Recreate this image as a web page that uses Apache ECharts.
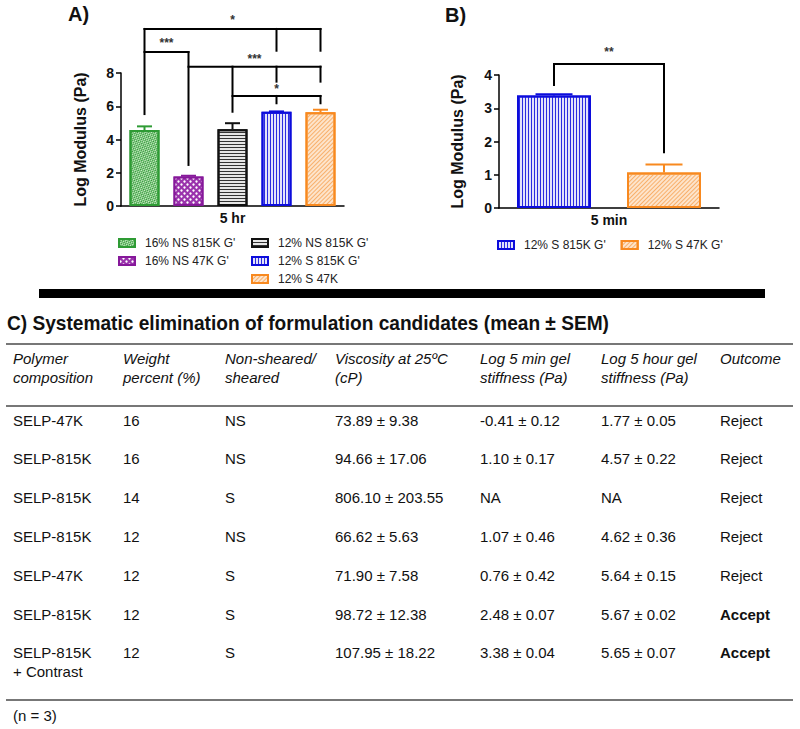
<!DOCTYPE html>
<html><head><meta charset="utf-8">
<script src="https://cdn.jsdelivr.net/npm/echarts/dist/echarts.min.js"></script>
<style>
body{margin:0;background:#fff;font-family:'Liberation Sans',Arial,sans-serif;color:#111;width:800px;height:729px;overflow:hidden;position:relative}
#chart{position:absolute;left:0;top:0;width:800px;height:300px}
.c{position:absolute;white-space:pre;font-size:15px;line-height:19px}
.h{font-style:italic}
.rule{position:absolute;background:#777;height:2px}
</style></head><body>
<div id="chart"></div>
<div id="table"></div>
<script>
// ---------- Panel A data ----------
const categoriesA = ['5 hr'];
const seriesNamesA = ["16% NS 815K G'", "16% NS 47K G'", "12% NS 815K G'", "12% S 815K G'", "12% S 47K"];
const meansA = [4.57, 1.77, 4.62, 5.67, 5.64];
const semA = [0.22, 0.05, 0.36, 0.02, 0.15];
// significance brackets A: horizontal [fromBar, toBar, y], vertical [bar, yTop, yBottom], labels [text, fromBar, toBar, y]
const bracketHA = [[0, 4, 10.65], [0, 1, 9.26], [1, 4, 8.38], [2, 4, 6.62]];
const bracketVA = [[0, 10.65, 5.53], [3, 10.65, 9.34], [4, 10.65, 9.34], [1, 9.26, 2.47], [2, 8.38, 5.67], [3, 8.38, 7.48], [4, 8.38, 7.48], [3, 6.62, 6.18], [4, 6.62, 6.18]];
const bracketLA = [['*', 0, 4, 11.2], ['***', 0, 1, 9.8], ['***', 1, 4, 8.85], ['*', 2, 4, 7.05]];

// ---------- Panel B data ----------
const categoriesB = ['5 min'];
const seriesNamesB = ["12% S 815K G'", "12% S 47K G'"];
const meansB = [3.38, 1.07];
const semB = [0.04, 0.24];
const bracketHB = [[0, 1, 4.33]];
const bracketVB = [[0, 4.33, 3.7], [1, 4.33, 1.68]];
const bracketLB = [['**', 0, 1, 4.69]];

// ---------- Panel C table ----------
const tableTitle = 'C) Systematic elimination of formulation candidates (mean ± SEM)';
const tableHeaders = ['Polymer\ncomposition', 'Weight\npercent (%)', 'Non-sheared/\nsheared', 'Viscosity at 25ºC\n(cP)', 'Log 5 min gel\nstiffness (Pa)', 'Log 5 hour gel\nstiffness (Pa)', 'Outcome'];
const colPolymer = ['SELP-47K', 'SELP-815K', 'SELP-815K', 'SELP-815K', 'SELP-47K', 'SELP-815K', 'SELP-815K\n+ Contrast'];
const colWeight = ['16', '16', '14', '12', '12', '12', '12'];
const colShear = ['NS', 'NS', 'S', 'NS', 'S', 'S', 'S'];
const colViscosity = ['73.89 ± 9.38', '94.66 ± 17.06', '806.10 ± 203.55', '66.62 ± 5.63', '71.90 ± 7.58', '98.72 ± 12.38', '107.95 ± 18.22'];
const colLog5min = ['-0.41 ± 0.12', '1.10 ± 0.17', 'NA', '1.07 ± 0.46', '0.76 ± 0.42', '2.48 ± 0.07', '3.38 ± 0.04'];
const colLog5hr = ['1.77 ± 0.05', '4.57 ± 0.22', 'NA', '4.62 ± 0.36', '5.64 ± 0.15', '5.67 ± 0.02', '5.65 ± 0.07'];
const colOutcome = ['Reject', 'Reject', 'Reject', 'Reject', 'Reject', 'Accept', 'Accept'];
const tableNote = '(n = 3)';

// ---------- styles ----------
const FONT = "'Liberation Sans', Arial, sans-serif";
const stylesA = [
  {color: '#cfeccb', border: '#2e9b34', decal: {symbol: 'rect', symbolSize: 1, color: '#2e9b34', dashArrayX: [[2, 2], [0, 2, 2, 0]], dashArrayY: [1, 0], rotation: Math.PI / 4}},
  {color: '#9a33ac', border: '#86189a', decal: {symbol: 'circle', symbolSize: 0.8, color: '#ffffff', dashArrayX: [[3, 3], [0, 3, 3, 0]], dashArrayY: [3, 0]}},
  {color: '#e6e6e6', border: '#111111', decal: {symbol: 'rect', symbolSize: 1, symbolKeepAspect: false, color: '#333333', dashArrayX: [4, 0], dashArrayY: [1, 2]}},
  {color: '#e2e2fb', border: '#0c0cdc', decal: {symbol: 'rect', symbolSize: 1, symbolKeepAspect: false, color: '#2b2be0', dashArrayX: [1, 1.6], dashArrayY: [4, 0]}},
  {color: '#fde4cb', border: '#f8891f', decal: {symbol: 'rect', symbolSize: 1, symbolKeepAspect: false, color: '#f8b06c', dashArrayX: [4, 0], dashArrayY: [1, 1.4], rotation: -Math.PI / 4}}
];
const stylesB = [stylesA[3], stylesA[4]];

function pixelHelpers(api, n, step) {
  const cx = api.coord([0, 0])[0];
  return {
    bx: i => cx + (i - (n - 1) / 2) * step,
    py: v => api.coord([0, v])[1]
  };
}
function bracketRender(H, V, L, n, step) {
  return function (params, api) {
    const {bx, py} = pixelHelpers(api, n, step);
    const ls = {stroke: '#000', lineWidth: 2, lineCap: 'square'};
    const children = [];
    H.forEach(([a, b, y]) => children.push({type: 'line', shape: {x1: bx(a), y1: py(y), x2: bx(b), y2: py(y)}, style: ls}));
    V.forEach(([i, y1, y2]) => children.push({type: 'line', shape: {x1: bx(i), y1: py(y1), x2: bx(i), y2: py(y2)}, style: ls}));
    L.forEach(([t, a, b, y]) => children.push({type: 'text', x: (bx(a) + bx(b)) / 2, y: py(y), style: {text: t, fill: '#333', font: 'bold 12px ' + FONT, align: 'center', verticalAlign: 'middle'}}));
    return {type: 'group', children};
  };
}
function errorRender(styles, n, step, bw) {
  return function (params, api) {
    const {bx, py} = pixelHelpers(api, n, step);
    const i = api.value(3), m = api.value(1), e = api.value(2);
    const x = bx(i), y0 = py(m), y1 = py(m + e);
    const st = {stroke: styles[i].border, lineWidth: 2};
    return {type: 'group', children: [
      {type: 'line', shape: {x1: x, y1: y0, x2: x, y2: y1}, style: st},
      {type: 'line', shape: {x1: x - bw / 4, y1: y1, x2: x + bw / 4, y2: y1}, style: st}
    ]};
  };
}

const BW_A = 30, STEP_A = 44, BW_B = 74, STEP_B = 110;
const axisLineStyle = {color: '#000', width: 1.5};
function xAxisCfg(gi, cats) {
  return {gridIndex: gi, type: 'category', data: cats,
    axisLine: {lineStyle: axisLineStyle}, axisTick: {alignWithLabel: true, length: 4, lineStyle: axisLineStyle},
    axisLabel: {fontFamily: FONT, fontWeight: 'bold', fontSize: 14, color: '#111', margin: 5}};
}
function yAxisCfg(gi, max, interval, gap) {
  return {gridIndex: gi, type: 'value', min: 0, max: max, interval: interval,
    name: 'Log Modulus (Pa)', nameLocation: 'middle', nameGap: gap,
    nameTextStyle: {fontFamily: FONT, fontWeight: 'bold', fontSize: 16, color: '#111'},
    axisLine: {show: true, lineStyle: axisLineStyle}, axisTick: {show: true, length: 5, lineStyle: axisLineStyle},
    splitLine: {show: false},
    axisLabel: {fontFamily: FONT, fontWeight: 'bold', fontSize: 14, color: '#111', margin: 7}};
}

const series = [];
seriesNamesA.forEach((name, i) => series.push({
  type: 'bar', name, xAxisIndex: 0, yAxisIndex: 0, data: [meansA[i]], barWidth: BW_A, barGap: (100 * (STEP_A - BW_A) / BW_A) + '%',
  itemStyle: {color: stylesA[i].color, borderColor: stylesA[i].border, borderWidth: 2, decal: stylesA[i].decal}, silent: true
}));
seriesNamesB.forEach((name, i) => series.push({
  type: 'bar', name, xAxisIndex: 1, yAxisIndex: 1, data: [meansB[i]], barWidth: BW_B, barGap: (100 * (STEP_B - BW_B) / BW_B) + '%',
  itemStyle: {color: stylesB[i].color, borderColor: stylesB[i].border, borderWidth: 2, decal: stylesB[i].decal}, silent: true
}));
series.push({type: 'custom', xAxisIndex: 0, yAxisIndex: 0, z: 3, silent: true, encode: {x: 0, y: 1},
  data: meansA.map((m, i) => [0, m, semA[i], i]), renderItem: errorRender(stylesA, meansA.length, STEP_A, BW_A)});
series.push({type: 'custom', xAxisIndex: 1, yAxisIndex: 1, z: 3, silent: true, encode: {x: 0, y: 1},
  data: meansB.map((m, i) => [0, m, semB[i], i]), renderItem: errorRender(stylesB, meansB.length, STEP_B, BW_B)});
series.push({type: 'custom', xAxisIndex: 0, yAxisIndex: 0, z: 4, silent: true, clip: false, encode: {x: 0, y: 1},
  data: [[0, 0]], renderItem: bracketRender(bracketHA, bracketVA, bracketLA, meansA.length, STEP_A)});
series.push({type: 'custom', xAxisIndex: 1, yAxisIndex: 1, z: 4, silent: true, clip: false, encode: {x: 0, y: 1},
  data: [[0, 0]], renderItem: bracketRender(bracketHB, bracketVB, bracketLB, meansB.length, STEP_B)});

const legendBase = {padding: 0, icon: 'rect', itemWidth: 16, itemHeight: 8, selectedMode: false,
  textStyle: {fontFamily: FONT, fontSize: 12, color: '#222', lineHeight: 14, padding: [0, 0, 0, 5]}};

const option = {
  animation: false,
  aria: {enabled: false},
  grid: [
    {left: 121, top: 73, width: 223, height: 133},
    {left: 499, top: 75, width: 220, height: 133}
  ],
  xAxis: [xAxisCfg(0, categoriesA), xAxisCfg(1, categoriesB)],
  yAxis: [yAxisCfg(0, 8, 2, 33), yAxisCfg(1, 4, 1, 34)],
  legend: [
    Object.assign({}, legendBase, {left: 118, top: 236, orient: 'vertical', itemGap: 4, data: seriesNamesA.slice(0, 2)}),
    Object.assign({}, legendBase, {left: 251, top: 236, orient: 'vertical', itemGap: 4, data: seriesNamesA.slice(2)}),
    Object.assign({}, legendBase, {left: 497, top: 238, orient: 'horizontal', itemGap: 15, data: seriesNamesB})
  ],
  graphic: [
    {type: 'text', left: 68, top: 4, style: {text: 'A)', font: 'bold 20px ' + FONT, fill: '#111'}},
    {type: 'text', left: 445, top: 5, style: {text: 'B)', font: 'bold 20px ' + FONT, fill: '#111'}}
  ],
  series
};
const chart = echarts.init(document.getElementById('chart'), null, {renderer: 'svg'});
chart.setOption(option);

// ---------- table (HTML text) ----------
const tbl = document.getElementById('table');
function put(text, left, centerY, cls, extra) {
  const d = document.createElement('div');
  d.className = 'c ' + (cls || '');
  d.textContent = text;
  d.style.left = left + 'px';
  d.style.top = (centerY - 9.5) + 'px';
  if (extra) Object.assign(d.style, extra);
  tbl.appendChild(d);
  return d;
}
function rule(top, left, width, h, color) {
  const d = document.createElement('div');
  d.className = 'rule';
  Object.assign(d.style, {top: top + 'px', left: left + 'px', width: width + 'px'});
  if (h) d.style.height = h + 'px';
  if (color) d.style.background = color;
  tbl.appendChild(d);
}
const colX = [13, 123, 225, 335, 480, 601, 720];
rule(289, 39, 726, 9, '#000');
put(tableTitle, 7, 323, '', {fontWeight: 'bold', fontSize: '21px', lineHeight: '24px', top: '311px', transform: 'scaleX(0.91)', transformOrigin: 'left center'});
rule(343, 6, 787);
tableHeaders.forEach((h, j) => put(h, colX[j], 358, 'h'));
rule(405, 6, 787);
const cols = [colPolymer, colWeight, colShear, colViscosity, colLog5min, colLog5hr, colOutcome];
colPolymer.forEach((_, r) => {
  const cy = 420 + r * 38.8;
  cols.forEach((col, j) => {
    const d = put(col[r], colX[j], cy, '');
    if (j === 6 && col[r] === 'Accept') d.style.fontWeight = 'bold';
  });
});
rule(699, 6, 787);
put(tableNote, 13, 715, '');
</script>
</body></html>
